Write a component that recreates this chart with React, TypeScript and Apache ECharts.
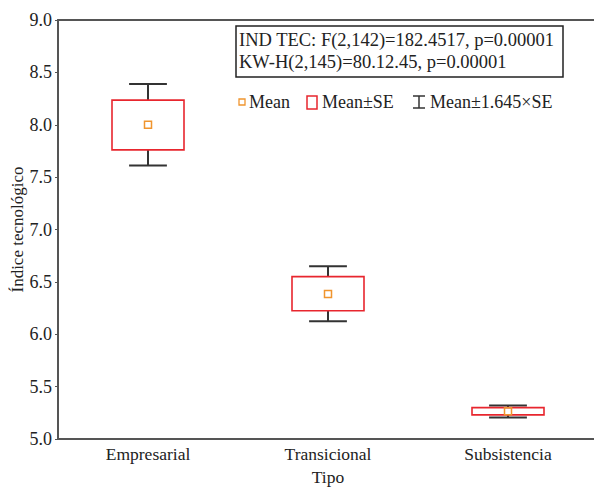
import React, { useEffect, useRef } from "react";
import * as echarts from "echarts";

const categories = ["Empresarial", "Transicional", "Subsistencia"];
const means = [8.0, 6.385, 5.265];
const seLow = [7.76, 6.225, 5.23];
const seHigh = [8.235, 6.55, 5.3];
const ciLow = [7.61, 6.125, 5.205];
const ciHigh = [8.39, 6.65, 5.32];
const yTicks = { min: 5.0, max: 9.0, interval: 0.5 };
const statsLines = [
  "IND TEC: F(2,142)=182.4517, p=0.00001",
  "KW-H(2,145)=80.12.45, p=0.00001",
];
const legendLabels = ["Mean", "Mean±SE", "Mean±1.645×SE"];

const FONT = "Liberation Serif";
const TEXT = "#222";
const AXIS = "#555";
const RED = "#e8262e";
const ORANGE = "#f0952e";
const WHISK = "#333";

export default function App() {
  const ref = useRef<HTMLDivElement>(null);
  useEffect(() => {
    if (!ref.current) return;
    const chart = echarts.init(ref.current, null, { renderer: "svg" });
    const data = categories.map((_, i) => [i, means[i], seLow[i], seHigh[i], ciLow[i], ciHigh[i]]);
    const axisLabelStyle = { fontFamily: FONT, fontSize: 18, color: TEXT };
    chart.setOption({
      animation: false,
      grid: { left: 58, top: 20, bottom: 48, width: 540, outerBoundsMode: "none", containLabel: false },
      xAxis: [
        {
          type: "category",
          data: categories,
          position: "bottom",
          axisLine: { lineStyle: { color: AXIS, width: 2 } },
          axisTick: { inside: true, length: 4, alignWithLabel: true, lineStyle: { color: AXIS } },
          axisLabel: { ...axisLabelStyle, fontSize: 17.5, margin: 6, interval: 0 },
          name: "Tipo",
          nameLocation: "middle",
          nameGap: 29,
          nameTextStyle: { ...axisLabelStyle, fontSize: 17.5 },
        },
        {
          type: "category",
          data: categories,
          position: "top",
          axisLine: { lineStyle: { color: AXIS, width: 2 } },
          axisTick: { inside: true, length: 4, alignWithLabel: true, lineStyle: { color: AXIS } },
          axisLabel: { show: false },
        },
      ],
      yAxis: [
        {
          type: "value",
          min: yTicks.min,
          max: yTicks.max,
          interval: yTicks.interval,
          position: "left",
          splitLine: { show: false },
          axisLine: { show: true, lineStyle: { color: AXIS, width: 2 } },
          axisTick: { show: true, inside: false, length: 3, lineStyle: { color: AXIS } },
          axisLabel: { ...axisLabelStyle, margin: 6, formatter: (v: number) => v.toFixed(1) },
          name: "Índice tecnológico",
          nameLocation: "middle",
          nameRotate: 90,
          nameGap: 32,
          nameMoveOverlap: false,
          nameTextStyle: { ...axisLabelStyle, fontSize: 17 },
        },
        {
          type: "value",
          min: yTicks.min,
          max: yTicks.max,
          interval: yTicks.interval,
          position: "right",
          splitLine: { show: false },
          axisLine: { show: true, lineStyle: { color: AXIS, width: 2 } },
          axisTick: { show: true, inside: true, length: 4, lineStyle: { color: AXIS } },
          axisLabel: { show: false },
        },
      ],
      series: [
        {
          type: "custom",
          xAxisIndex: 0,
          yAxisIndex: 0,
          data,
          encode: { x: 0, y: [1, 2, 3, 4, 5] },
          renderItem: (params: any, api: any) => {
            const idx = api.value(0);
            const band = api.size([1, 0])[0];
            const pMean = api.coord([idx, api.value(1)]);
            const pSeL = api.coord([idx, api.value(2)]);
            const pSeH = api.coord([idx, api.value(3)]);
            const pCiL = api.coord([idx, api.value(4)]);
            const pCiH = api.coord([idx, api.value(5)]);
            const cx = pMean[0];
            const bw = band * 0.4;
            const cw = band * 0.21;
            const ws = { stroke: WHISK, lineWidth: 2 };
            return {
              type: "group",
              children: [
                { type: "line", shape: { x1: cx, y1: pCiH[1], x2: cx, y2: pSeH[1] }, style: ws },
                { type: "line", shape: { x1: cx, y1: pSeL[1], x2: cx, y2: pCiL[1] }, style: ws },
                { type: "line", shape: { x1: cx - cw / 2, y1: pCiH[1], x2: cx + cw / 2, y2: pCiH[1] }, style: ws },
                { type: "line", shape: { x1: cx - cw / 2, y1: pCiL[1], x2: cx + cw / 2, y2: pCiL[1] }, style: ws },
                {
                  type: "rect",
                  shape: { x: cx - bw / 2, y: pSeH[1], width: bw, height: pSeL[1] - pSeH[1] },
                  style: { fill: "#fff", stroke: RED, lineWidth: 1.6 },
                },
                {
                  type: "rect",
                  shape: { x: cx - 3.5, y: pMean[1] - 3.5, width: 7, height: 7 },
                  style: { fill: "none", stroke: ORANGE, lineWidth: 1.5 },
                },
              ],
            };
          },
        },
      ],
      graphic: [
        {
          type: "rect",
          shape: { x: 236, y: 26, width: 327, height: 51 },
          style: { fill: "#fff", stroke: "#222", lineWidth: 1.5 },
          z: 10,
        },
        {
          type: "text",
          x: 239,
          y: 40,
          style: { text: statsLines[0], font: `18.5px '${FONT}'`, fill: TEXT, verticalAlign: "middle" },
          z: 11,
        },
        {
          type: "text",
          x: 239,
          y: 62,
          style: { text: statsLines[1], font: `18.5px '${FONT}'`, fill: TEXT, verticalAlign: "middle" },
          z: 11,
        },
        {
          type: "rect",
          shape: { x: 239, y: 99, width: 6, height: 6 },
          style: { fill: "none", stroke: ORANGE, lineWidth: 1.3 },
        },
        {
          type: "text",
          x: 249,
          y: 102,
          style: { text: legendLabels[0], font: `18px '${FONT}'`, fill: TEXT, verticalAlign: "middle" },
        },
        {
          type: "rect",
          shape: { x: 307, y: 96, width: 10, height: 13 },
          style: { fill: "none", stroke: RED, lineWidth: 1.5 },
        },
        {
          type: "text",
          x: 322,
          y: 102,
          style: { text: legendLabels[1], font: `18px '${FONT}'`, fill: TEXT, verticalAlign: "middle" },
        },
        { type: "line", shape: { x1: 413, y1: 96, x2: 425, y2: 96 }, style: { stroke: WHISK, lineWidth: 1.5 } },
        { type: "line", shape: { x1: 419, y1: 96, x2: 419, y2: 108 }, style: { stroke: WHISK, lineWidth: 1.5 } },
        { type: "line", shape: { x1: 413, y1: 108, x2: 425, y2: 108 }, style: { stroke: WHISK, lineWidth: 1.5 } },
        {
          type: "text",
          x: 430,
          y: 102,
          style: { text: legendLabels[2], font: `18px '${FONT}'`, fill: TEXT, verticalAlign: "middle" },
        },
      ],
    });
    return () => chart.dispose();
  }, []);
  return <div ref={ref} style={{ width: 594, height: 487, position: "absolute", left: 0, top: 0 }} />;
}
